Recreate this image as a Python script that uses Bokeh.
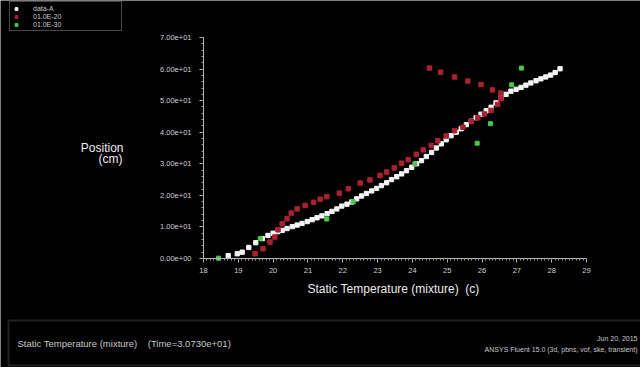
from bokeh.plotting import figure
from bokeh.models import Range1d, Label, Legend, LegendItem, SingleIntervalTicker, BoxAnnotation
from bokeh.embed import file_html
from bokeh.resources import INLINE

# ---- data ----
white_x = [18.71, 18.97, 19.11, 19.30, 19.50, 19.69, 19.85, 20.00, 20.13, 20.26, 20.40, 20.55,
           20.69, 20.83, 20.98, 21.12, 21.26, 21.40, 21.55, 21.69, 21.83, 21.97, 22.12, 22.26,
           22.40, 22.54, 22.68, 22.83, 22.97, 23.11, 23.26, 23.40, 23.55, 23.69, 23.83, 23.98,
           24.12, 24.26, 24.40, 24.55, 24.69, 24.83, 24.97, 25.11, 25.26, 25.40, 25.55, 25.69,
           25.83, 25.97, 26.12, 26.26, 26.40, 26.54, 26.69, 26.83, 26.98, 27.12, 27.26, 27.40,
           27.55, 27.69, 27.83, 27.97, 28.10, 28.24]
white_y = [0.9, 1.5, 2.0, 3.5, 5.0, 6.3, 7.3, 8.0, 8.5, 8.9, 9.5, 10.1,
           10.6, 11.1, 11.7, 12.3, 12.9, 13.5, 14.2, 14.9, 15.7, 16.6, 17.2, 17.9,
           18.9, 19.8, 20.6, 21.4, 22.2, 23.1, 24.0, 25.0, 25.9, 26.8, 27.8, 28.9,
           30.0, 31.0, 32.3, 33.6, 35.0, 36.3, 37.6, 38.9, 40.0, 41.1, 42.4, 43.5,
           44.6, 45.7, 46.8, 47.9, 49.3, 50.8, 52.0, 53.0, 53.6, 54.2, 54.9, 55.6,
           56.3, 56.9, 57.5, 58.1, 58.9, 60.1]

red_x = [19.48, 19.71, 19.91, 20.05, 20.14, 20.26, 20.40, 20.52, 20.69, 20.92, 21.16, 21.35,
         21.54, 21.90, 22.16, 22.50, 22.78, 23.07, 23.26, 23.48, 23.69, 23.88, 24.11, 24.31,
         24.54, 24.73, 24.97, 25.21, 25.45, 25.69, 25.88, 26.07, 26.26, 26.45, 26.54, 26.54,
         26.30, 25.97, 25.59, 25.21, 24.81, 24.49]
red_y = [1.5, 3.1, 5.2, 6.8, 9.1, 11.0, 12.6, 14.4, 15.7, 16.8, 17.8, 18.8,
         19.6, 20.7, 22.1, 23.9, 24.9, 26.3, 27.4, 28.7, 30.2, 31.3, 33.0, 34.4,
         35.8, 37.3, 38.8, 40.5, 41.6, 43.5, 44.6, 45.8, 46.9, 48.8, 50.6, 52.4,
         53.4, 55.1, 56.2, 57.5, 59.0, 60.3]

green_x = [18.43, 19.63, 21.54, 22.30, 24.07, 25.86, 26.24, 26.85, 27.13]
green_y = [0.1, 6.3, 12.5, 18.0, 30.0, 36.5, 42.7, 55.0, 60.3]

series_names = ["data-A", "01.0E-20", "01.0E-30"]

x_min, x_max = 18, 29
y_min, y_max = 0, 70
x_ticks = [18, 19, 20, 21, 22, 23, 24, 25, 26, 27, 28, 29]
y_ticks = [0, 10, 20, 30, 40, 50, 60, 70]
y_tick_labels = ["0.00e+00", "1.00e+01", "2.00e+01", "3.00e+01",
                 "4.00e+01", "5.00e+01", "6.00e+01", "7.00e+01"]

NB = "\u00a0"
x_title = "Static Temperature (mixture)" + NB + " (c)"
y_title = ["Position", "(cm)"]
footer_left = "Static Temperature (mixture)" + NB * 3 + " (Time=3.0730e+01)"
footer_right = ["Jun 20, 2015", "ANSYS Fluent 15.0 (3d, pbns, vof, ske, transient)"]

# ---- layout (pixels) ----
W, H = 640, 367
AX_L, AX_R = 203, 586      # pixel x of x_min / x_max
AX_T, AX_B = 37, 258       # pixel y of y_max / y_min
kx = (AX_R - AX_L) / (x_max - x_min)
ky = (AX_B - AX_T) / (y_max - y_min)


def fx(px):
    return x_min + (px - AX_L) / kx


def fy(py):
    return y_min + (AX_B - py) / ky


FONT = "Liberation Sans"

p = figure(width=W, height=H, x_range=Range1d(fx(0), fx(W)), y_range=Range1d(fy(H), fy(0)),
           output_backend="svg", toolbar_location=None,
           background_fill_color="black", border_fill_color="black",
           outline_line_color=None, min_border=0,
           min_border_left=0, min_border_right=0, min_border_top=0, min_border_bottom=0)
p.grid.visible = False

p.xaxis.fixed_location = y_min
p.yaxis.fixed_location = x_min
p.xaxis.bounds = (x_min, x_max)
p.yaxis.bounds = (y_min, y_max)
p.xaxis.ticker = SingleIntervalTicker(interval=1, num_minor_ticks=10)
p.yaxis.ticker = SingleIntervalTicker(interval=10, num_minor_ticks=5)
p.yaxis.major_label_overrides = {t: s for t, s in zip(y_ticks, y_tick_labels)}
p.xaxis.major_label_overrides = {t: str(t) for t in x_ticks}

for ax in p.axis:
    ax.axis_line_color = "#b8b8b8"
    ax.major_tick_line_color = "#b8b8b8"
    ax.minor_tick_line_color = "#9a9a9a"
    ax.major_tick_out = 4
    ax.major_tick_in = 0
    ax.minor_tick_out = 2
    ax.minor_tick_in = 0
    ax.major_label_text_color = "#d0d0d0"
    ax.major_label_text_font = FONT
    ax.major_label_text_font_size = "7.5px"
p.xaxis.major_label_standoff = 5
p.yaxis.major_label_standoff = 8

r_w = p.scatter(white_x, white_y, marker="square", size=4.3, color="#f4f4f4")
r_r = p.scatter(red_x, red_y, marker="square", size=4.5, color="#a82232")
r_g = p.scatter(green_x, green_y, marker="square", size=4, color="#4cc84c")

legend = Legend(items=[LegendItem(label=series_names[0], renderers=[r_w]),
                       LegendItem(label=series_names[1], renderers=[r_r]),
                       LegendItem(label=series_names[2], renderers=[r_g])],
                location=(9, H - 31))
legend.label_text_font = FONT
legend.label_text_font_size = "7px"
legend.label_text_color = "#c8c8c8"
legend.label_height = 8
legend.glyph_height = 7
legend.glyph_width = 8
legend.spacing = 0
legend.padding = 2
legend.margin = 0
legend.label_standoff = 13
legend.label_width = 86
legend.border_line_color = "#909090"
legend.border_line_width = 1
legend.background_fill_color = "black"
legend.background_fill_alpha = 1
p.add_layout(legend)

TITLE_COLOR = "#ececec"
p.add_layout(Label(x=fx(123), y=fy(147), text=y_title[0], text_align="right", text_baseline="middle",
                   text_color=TITLE_COLOR, text_font=FONT, text_font_size="12px"))
p.add_layout(Label(x=fx(122), y=fy(158), text=y_title[1], text_align="right", text_baseline="middle",
                   text_color=TITLE_COLOR, text_font=FONT, text_font_size="12px"))
p.add_layout(Label(x=fx(393), y=fy(288), text=x_title, text_align="center", text_baseline="middle",
                   text_color=TITLE_COLOR, text_font=FONT, text_font_size="12px"))

# footer panel
p.add_layout(BoxAnnotation(left=fx(8), right=fx(W + 10), top=fy(320), bottom=fy(365),
                           fill_alpha=0, line_color="#6a6a6a", line_width=2))
p.add_layout(Label(x=fx(17), y=fy(343), text=footer_left, text_align="left", text_baseline="middle",
                   text_color="#c8c8c8", text_font=FONT, text_font_size="9.5px"))
p.add_layout(Label(x=fx(637), y=fy(338), text=footer_right[0], text_align="right", text_baseline="middle",
                   text_color="#c8c8c8", text_font=FONT, text_font_size="7px"))
p.add_layout(Label(x=fx(637), y=fy(349), text=footer_right[1], text_align="right", text_baseline="middle",
                   text_color="#c8c8c8", text_font=FONT, text_font_size="7px"))

open("out.html", "w").write(file_html(p, INLINE))
